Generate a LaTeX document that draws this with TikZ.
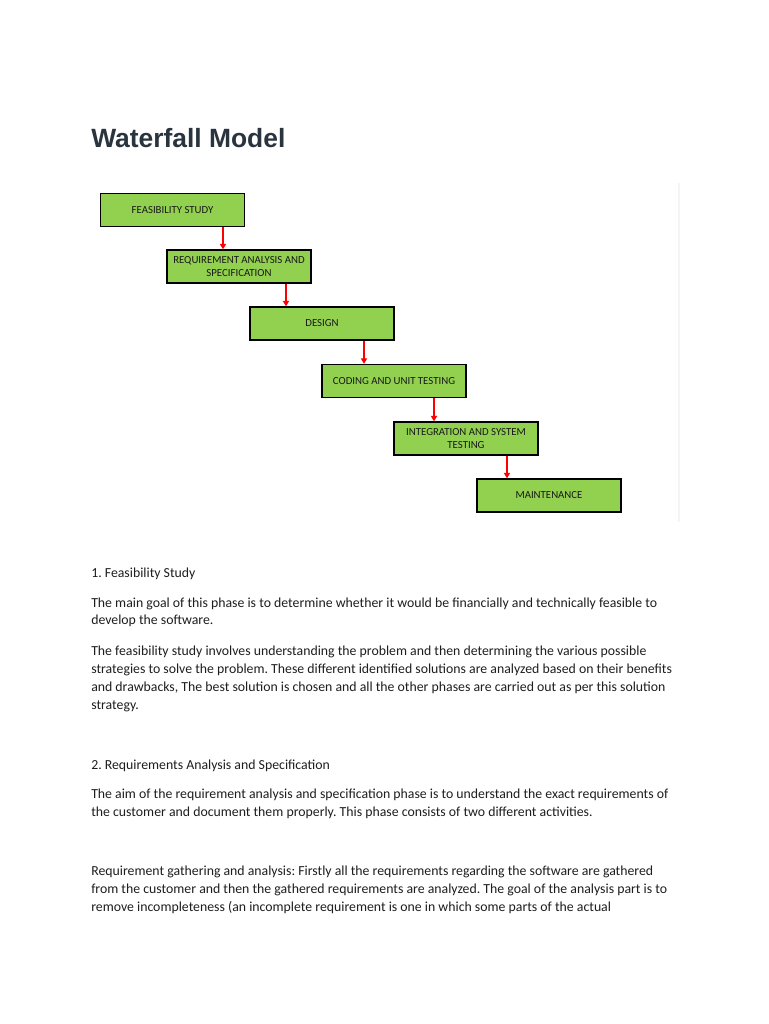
\documentclass[tikz,border=0pt]{standalone}
\usepackage{fontspec}
\setmainfont{Carlito}
\newfontfamily\titlefont{Liberation Sans}
\usetikzlibrary{arrows.meta}
\frenchspacing
\definecolor{boxgreen}{RGB}{146,208,80}
\definecolor{titlecol}{RGB}{42,52,62}
\definecolor{bodycol}{RGB}{30,30,30}
\definecolor{arrowred}{RGB}{255,0,0}
\tikzset{
  phase/.style={draw=black, line width=1.4pt*0.75, fill=boxgreen, minimum width=144*0.75pt, minimum height=33*0.75pt, inner sep=0pt, align=center, font=\fontsize{8.1}{9.6}\selectfont, text=black!90},
  flow/.style={draw=arrowred, line width=1.5pt*0.75, -{Triangle[width=4.5pt,length=4pt]}},
  body/.style={anchor=base west, inner sep=0pt, text=bodycol, font=\fontsize{10.35}{12}\selectfont},
}
\begin{document}
\begin{tikzpicture}[x=0.75pt,y=-0.75pt]
\useasboundingbox (0,0) rectangle (768,1024);
\fill[white] (0,0) rectangle (768,1024);
\draw[black!4, line width=1.5pt*0.75] (679,183) -- (679,522);
\node[anchor=base west, inner sep=0pt, text=titlecol, font=\titlefont\bfseries\fontsize{19.8}{24}\selectfont] (title) at (91,147) {Waterfall Model};

\node[phase] (fs) at (172.5,210) {FEASIBILITY STUDY};
\node[phase] (ra) at (239,266.5) {REQUIREMENT ANALYSIS AND\\SPECIFICATION};
\node[phase] (de) at (322,323.5) {DESIGN};
\node[phase] (cu) at (394,381) {CODING AND UNIT TESTING};
\node[phase] (is) at (466,438.5) {INTEGRATION AND SYSTEM\\TESTING};
\node[phase] (ma) at (549,495.5) {MAINTENANCE};

\draw[flow] (fs.south -| 223,0) -- (ra.north -| 223,0);
\draw[flow] (ra.south -| 286,0) -- (de.north -| 286,0);
\draw[flow] (de.south -| 364,0) -- (cu.north -| 364,0);
\draw[flow] (cu.south -| 434,0) -- (is.north -| 434,0);
\draw[flow] (is.south -| 507,0) -- (ma.north -| 507,0);

\node[body] (h1) at (91,577) {1. Feasibility Study};
\node[body] (p1a) at (91,607) {The main goal of this phase is to determine whether it would be financially and technically feasible to};
\node[body] (p1b) at (91,624.5) {develop the software.};
\node[body] (p2a) at (91,655.5) {The feasibility study involves understanding the problem and then determining the various possible};
\node[body] (p2b) at (91,673.5) {strategies to solve the problem. These different identified solutions are analyzed based on their benefits};
\node[body] (p2c) at (91,691.5) {and drawbacks, The best solution is chosen and all the other phases are carried out as per this solution};
\node[body] (p2d) at (91,709.5) {strategy.};
\node[body] (h2) at (91,769) {2. Requirements Analysis and Specification};
\node[body] (p3a) at (91,798) {The aim of the requirement analysis and specification phase is to understand the exact requirements of};
\node[body] (p3b) at (91,816) {the customer and document them properly. This phase consists of two different activities.};
\node[body] (p4a) at (91,875) {Requirement gathering and analysis: Firstly all the requirements regarding the software are gathered};
\node[body] (p4b) at (91,893) {from the customer and then the gathered requirements are analyzed. The goal of the analysis part is to};
\node[body] (p4c) at (91,911) {remove incompleteness (an incomplete requirement is one in which some parts of the actual};
\end{tikzpicture}
\end{document}
